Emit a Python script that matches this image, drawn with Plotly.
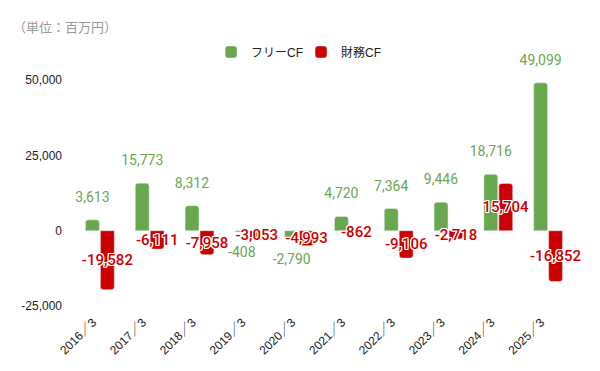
import plotly.graph_objects as go

categories = ["2016／3", "2017／3", "2018／3", "2019／3", "2020／3",
              "2021／3", "2022／3", "2023／3", "2024／3", "2025／3"]
free_cf = [3613, 15773, 8312, -408, -2790, 4720, 7364, 9446, 18716, 49099]
fin_cf = [-19582, -6111, -7958, -3053, -4993, -862, -9106, -2718, 15704, -16852]
y_ticks = [-25000, 0, 25000, 50000]
y_tick_labels = ["-25,000", "0", "25,000", "50,000"]

GREEN = "#6aa84f"
RED = "#cc0000"
FONT = "Roboto, 'Noto Sans CJK JP', sans-serif"
AXFONT = "Arial, 'Liberation Sans', 'Noto Sans CJK JP', sans-serif"
OUTLINE = ", ".join(f"{dx}px {dy}px 0 #fff" for dx in (-1, 0, 1) for dy in (-1, 0, 1) if dx or dy)

fig = go.Figure()
fig.add_trace(go.Bar(
    x=categories, y=free_cf, name="フリーCF", marker_color=GREEN,
    texttemplate=" <br><span style='font-size:14px'>%{y:,}</span><br> ",
    textposition="outside", cliponaxis=False, constraintext="none",
    textfont=dict(color=GREEN, size=10, family=FONT), textangle=0,
))
fig.add_trace(go.Bar(
    x=categories, y=fin_cf, name="財務CF", marker_color=RED,
    texttemplate="%{y:,}", textposition="inside", insidetextanchor="middle",
    constraintext="none", textangle=0, cliponaxis=False,
    textfont=dict(color=RED, size=15, family=FONT, weight=500, shadow=OUTLINE),
))

# the page adds an 8px body margin, so the figure is 8px smaller and margins shifted
fig.update_layout(
    width=592, height=363,
    margin=dict(l=67, r=27, t=57, b=65, autoexpand=False),
    paper_bgcolor="white", plot_bgcolor="white",
    barmode="group", bargap=0.4, bargroupgap=0.07, barcornerradius=3,
    font=dict(family=AXFONT, color="#222", size=12),
    showlegend=True,
    legend=dict(orientation="h", x=0.495, xanchor="center", xref="container",
                y=1 - 44 / 363, yanchor="middle", yref="container",
                font=dict(size=12, color="#222", family=AXFONT),
                entrywidth=45, traceorder="normal"),
    annotations=[dict(text="（単位：百万円）", xref="paper", yref="paper",
                      x=-0.1285, y=1.155, xanchor="left", yanchor="middle",
                      showarrow=False, font=dict(size=13, color="#999", family=FONT))],
)
fig.update_xaxes(tickangle=-45, showgrid=False, showline=False, zeroline=False,
                 ticks="", automargin=False, ticklabelstandoff=6, ticklabelshift=-7,
                 tickfont=dict(size=12, color="#222"))
fig.update_yaxes(range=[-25000, 55000], tickvals=y_ticks, ticktext=y_tick_labels,
                 showgrid=False, zeroline=False, showline=False, ticks="",
                 automargin=False, ticklabelstandoff=12,
                 tickfont=dict(size=12, color="#222"))

fig.write_html("out.html")
